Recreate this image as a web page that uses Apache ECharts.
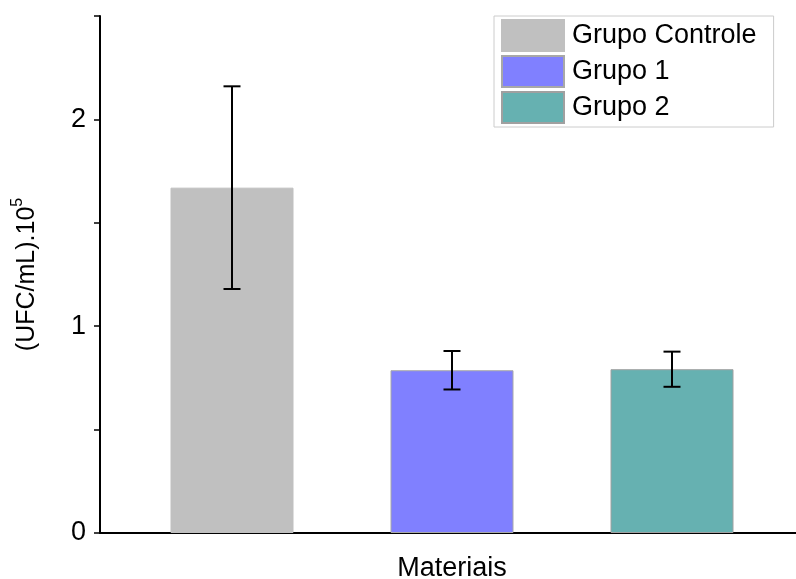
<!DOCTYPE html>
<html>
<head>
<meta charset="utf-8">
<script src="https://cdn.jsdelivr.net/npm/echarts@6/dist/echarts.min.js"></script>
<style>
  html, body { margin: 0; padding: 0; background: #fff; }
  #chart { width: 796px; height: 579px; }
</style>
</head>
<body>
<div id="chart"></div>
<script>
// Bacterial counts per group, mean and standard deviation
const groups = ['Grupo Controle', 'Grupo 1', 'Grupo 2'];
const means = [1.67, 0.787, 0.792];
const deviations = [0.49, 0.093, 0.085];
const slots = [1, 2, 3];
const fills = ['#c0c0c0', '#8080ff', '#66b1b1'];
const edges = ['#c0c0c0', '#a8a8a8', '#a0a0a0'];
const yTickLabels = ['0', '1', '2'];

const FONT = '"Liberation Sans", Arial, sans-serif';

const chart = echarts.init(document.getElementById('chart'), null, { renderer: 'canvas' });

const barSeries = groups.map((name, i) => ({
  name: name,
  type: 'bar',
  barWidth: 123,
  barGap: '-100%',
  itemStyle: { color: fills[i], borderColor: edges[i], borderWidth: 1 },
  data: [[slots[i], means[i]]],
  z: 2
}));

const errorSeries = {
  type: 'custom',
  z: 5,
  silent: true,
  data: groups.map((g, i) => [slots[i], means[i] - deviations[i], means[i] + deviations[i]]),
  renderItem: function (params, api) {
    const lo = api.coord([api.value(0), api.value(1)]);
    const hi = api.coord([api.value(0), api.value(2)]);
    const half = 8.5;
    const style = { stroke: '#000', lineWidth: 2 };
    return {
      type: 'group',
      children: [
        { type: 'line', shape: { x1: lo[0], y1: lo[1], x2: hi[0], y2: hi[1] }, style: style },
        { type: 'line', shape: { x1: hi[0] - half, y1: hi[1], x2: hi[0] + half, y2: hi[1] }, style: style },
        { type: 'line', shape: { x1: lo[0] - half, y1: lo[1], x2: lo[0] + half, y2: lo[1] }, style: style }
      ]
    };
  }
};

chart.setOption({
  animation: false,
  backgroundColor: '#fff',
  textStyle: { fontFamily: FONT },
  grid: { left: 100, right: -8, top: 16, bottom: 46, containLabel: false, outerBoundsMode: 'none' },
  legend: {
    data: groups,
    orient: 'vertical',
    left: 494,
    top: 16,
    itemWidth: 62,
    itemHeight: 31,
    itemGap: 3,
    icon: 'rect',
    padding: [3, 17, 3, 7],
    borderColor: '#cccccc',
    borderWidth: 1,
    textStyle: { fontSize: 27, color: '#000', fontFamily: FONT, padding: [4, 0, 0, 3] }
  },
  xAxis: {
    type: 'value',
    min: 0.4,
    max: 3.6,
    name: 'Materiais',
    nameLocation: 'middle',
    nameGap: 22,
    nameTextStyle: { fontSize: 27, color: '#000', fontFamily: FONT, verticalAlign: 'top' },
    axisLine: { show: true, onZero: false, lineStyle: { color: '#000', width: 2 } },
    axisTick: { show: false },
    axisLabel: { show: false },
    splitLine: { show: false }
  },
  yAxis: {
    type: 'value',
    min: 0,
    max: 2.5,
    interval: 0.5,
    name: '{main|(UFC/mL).10}{sup|5}',
    nameLocation: 'middle',
    nameGap: 60,
    nameRotate: 90,
    nameTextStyle: {
      rich: {
        main: { fontSize: 25, color: '#000', fontFamily: FONT, lineHeight: 30, verticalAlign: 'bottom' },
        sup: { fontSize: 16, color: '#000', fontFamily: FONT, lineHeight: 30, verticalAlign: 'top', padding: [0, 0, 10, 0] }
      }
    },
    axisLine: { show: true, lineStyle: { color: '#000', width: 2 } },
    axisTick: { show: true, inside: false, length: 6, lineStyle: { color: '#000', width: 1.5 } },
    axisLabel: {
      margin: 14,
      fontSize: 27,
      color: '#000',
      fontFamily: FONT,
      formatter: function (v) {
        const idx = Math.round(v);
        return Math.abs(v - idx) < 1e-9 ? yTickLabels[idx] : '';
      }
    },
    splitLine: { show: false }
  },
  series: barSeries.concat([errorSeries])
});
</script>
</body>
</html>
